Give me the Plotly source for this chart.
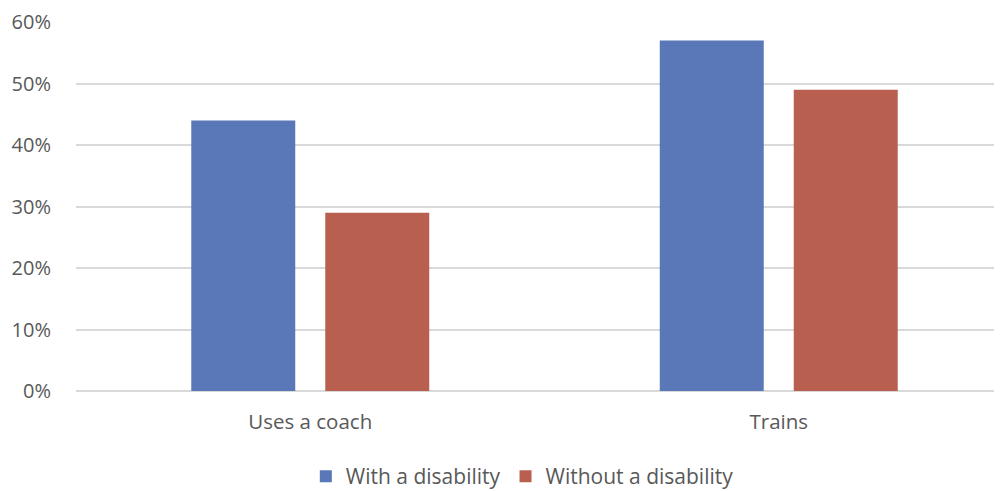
import plotly.graph_objects as go

categories = ["Uses a coach", "Trains"]
with_disability = [0.44, 0.57]
without_disability = [0.29, 0.49]
series_names = ["With a disability", "Without a disability"]
colors = ["#5A77B8", "#B85F4F"]

fig = go.Figure()
fig.add_trace(go.Bar(x=categories, y=with_disability, name=series_names[0],
                     marker=dict(color=colors[0], line=dict(width=0))))
fig.add_trace(go.Bar(x=categories, y=without_disability, name=series_names[1],
                     marker=dict(color=colors[1], line=dict(width=0))))

font_family = "Open Sans, sans-serif"
fig.update_layout(
    width=1002, height=491,
    margin=dict(l=68, r=8, t=13.5, b=108.3, pad=0, autoexpand=False),
    paper_bgcolor="white", plot_bgcolor="white",
    barmode="group", bargap=0.428, bargroupgap=0.224,
    font=dict(family=font_family, size=20, color="#595959"),
    showlegend=True,
    legend=dict(orientation="h", x=0.482, xanchor="center", y=-0.232, yanchor="middle",
                font=dict(size=21, color="#595959"), itemwidth=30, traceorder="normal"),
)
fig.update_xaxes(range=[-0.5, 1.4765], showgrid=False, showline=False, ticks="",
                 tickfont=dict(size=20.5, color="#595959"), ticklabelstandoff=16,
                 automargin=False)
fig.update_yaxes(range=[0, 0.6], tickvals=[0, 0.1, 0.2, 0.3, 0.4, 0.5, 0.6],
                 tickformat=".0%", showgrid=True, gridcolor="#D9D9D9", gridwidth=1.5,
                 zeroline=True, zerolinecolor="#D9D9D9", zerolinewidth=1.5,
                 showline=False, ticks="", ticklabelstandoff=24, automargin=False,
                 tickfont=dict(size=20, color="#595959"))

fig.write_html("out.html")
